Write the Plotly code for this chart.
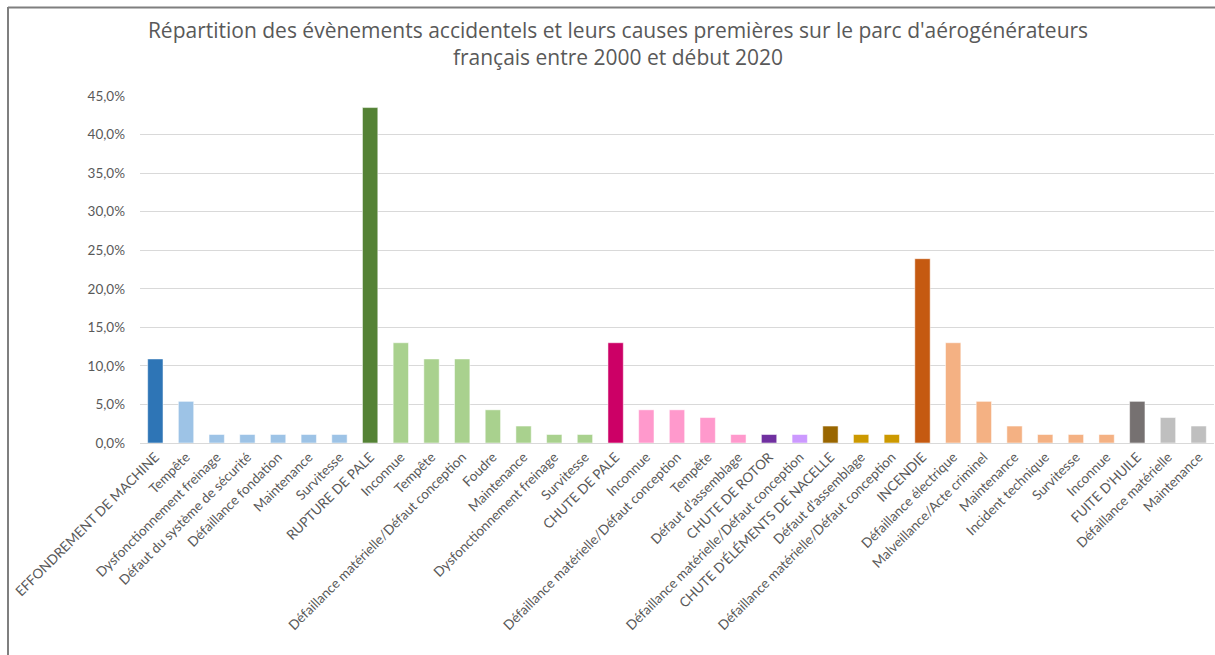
import plotly.graph_objects as go

# Catégories (événements en majuscules, causes en dessous)
categories = [
    "EFFONDREMENT DE MACHINE", "Tempête", "Dysfonctionnement freinage",
    "Défaut du système de sécurité", "Défaillance fondation", "Maintenance", "Survitesse",
    "RUPTURE DE PALE", "Inconnue", "Tempête", "Défaillance matérielle/Défaut conception",
    "Foudre", "Maintenance", "Dysfonctionnement freinage", "Survitesse",
    "CHUTE DE PALE", "Inconnue", "Défaillance matérielle/Défaut conception", "Tempête",
    "Défaut d’assemblage",
    "CHUTE DE ROTOR", "Défaillance matérielle/Défaut conception",
    "CHUTE D'ÉLÉMENTS DE NACELLE", "Défaut d'assemblage", "Défaillance matérielle/Défaut conception",
    "INCENDIE", "Défaillance électrique", "Malveillance/Acte criminel", "Maintenance",
    "Incident technique", "Survitesse", "Inconnue",
    "FUITE D'HUILE", "Défaillance matérielle", "Maintenance",
]

# Part de chaque événement / cause (%)
values = [
    10.9, 5.4, 1.1, 1.1, 1.1, 1.1, 1.1,
    43.5, 13.0, 10.9, 10.9, 4.3, 2.2, 1.1, 1.1,
    13.0, 4.3, 4.3, 3.3, 1.1,
    1.1, 1.1,
    2.2, 1.1, 1.1,
    23.9, 13.0, 5.4, 2.2, 1.1, 1.1, 1.1,
    5.4, 3.3, 2.2,
]

# Groupe de chaque barre (indice de l'événement)
groups = [0] * 7 + [1] * 8 + [2] * 5 + [3] * 2 + [4] * 3 + [5] * 7 + [6] * 3

# Couleurs : foncée pour l'événement, claire pour ses causes
dark_colors = ["#2E75B6", "#548235", "#CC0066", "#7030A0", "#996600", "#C55A11", "#767171"]
light_colors = ["#9DC3E6", "#A9D18E", "#FF99CC", "#CC99FF", "#CC9900", "#F4B183", "#BFBFBF"]

colors = []
prev = None
for g in groups:
    colors.append(dark_colors[g] if g != prev else light_colors[g])
    prev = g

x = list(range(len(categories)))

FONT = "Lato, 'Open Sans', sans-serif"
TXT = "#595959"

fig = go.Figure(
    go.Bar(
        x=x,
        y=values,
        marker=dict(color=colors, line=dict(color="rgba(255,255,255,0.5)", width=1)),
        width=0.5,
        hovertemplate="%{text}: %{y:.1f}%<extra></extra>",
        text=categories,
        textposition="none",
    )
)

W, H = 1215, 655
ML, MR, MT, MB = 140, 1, 96, 212
pw = W - ML - MR
ph = H - MT - MB


def px_x(px):
    return (px - ML) / pw


def px_y(py):
    return (H - MB - py) / ph


fig.update_layout(
    width=W,
    height=H,
    margin=dict(l=ML, r=MR, t=MT, b=MB, pad=0),
    paper_bgcolor="white",
    plot_bgcolor="white",
    showlegend=False,
    font=dict(family=FONT, color=TXT, size=13),
    title=dict(
        text="Répartition des évènements accidentels et leurs causes premières sur le parc d'aérogénérateurs<br>français entre 2000 et début 2020",
        xref="container",
        yref="container",
        x=618 / W,
        xanchor="center",
        y=1 - 38 / H,
        yanchor="middle",
        font=dict(family="'Open Sans', sans-serif", size=21, color=TXT),
    ),
    xaxis=dict(
        tickmode="array",
        tickvals=x,
        ticktext=categories,
        tickangle=-45,
        range=[-0.5, len(categories) - 0.5],
        showgrid=False,
        showline=True,
        linecolor="#D9D9D9",
        linewidth=1,
        ticks="",
        tickfont=dict(size=13.5, color=TXT),
        fixedrange=True,
    ),
    yaxis=dict(
        range=[0, 45],
        tickvals=[0, 5, 10, 15, 20, 25, 30, 35, 40, 45],
        ticktext=[f"{v:.1f}%".replace(".", ",") for v in [0, 5, 10, 15, 20, 25, 30, 35, 40, 45]],
        showgrid=True,
        gridcolor="#D9D9D9",
        gridwidth=1,
        zeroline=False,
        ticks="",
        ticklabelstandoff=14,
        tickfont=dict(size=13.5, color=TXT),
        fixedrange=True,
    ),
    shapes=[
        # cadre du graphique (haut et gauche)
        dict(type="line", xref="paper", yref="paper",
             x0=px_x(8), x1=px_x(W + 5), y0=px_y(7.5), y1=px_y(7.5),
             line=dict(color="#7F7F7F", width=2)),
        dict(type="line", xref="paper", yref="paper",
             x0=px_x(8), x1=px_x(8), y0=px_y(7), y1=px_y(H + 5),
             line=dict(color="#7F7F7F", width=2)),
    ],
)

fig.write_html("out.html")
